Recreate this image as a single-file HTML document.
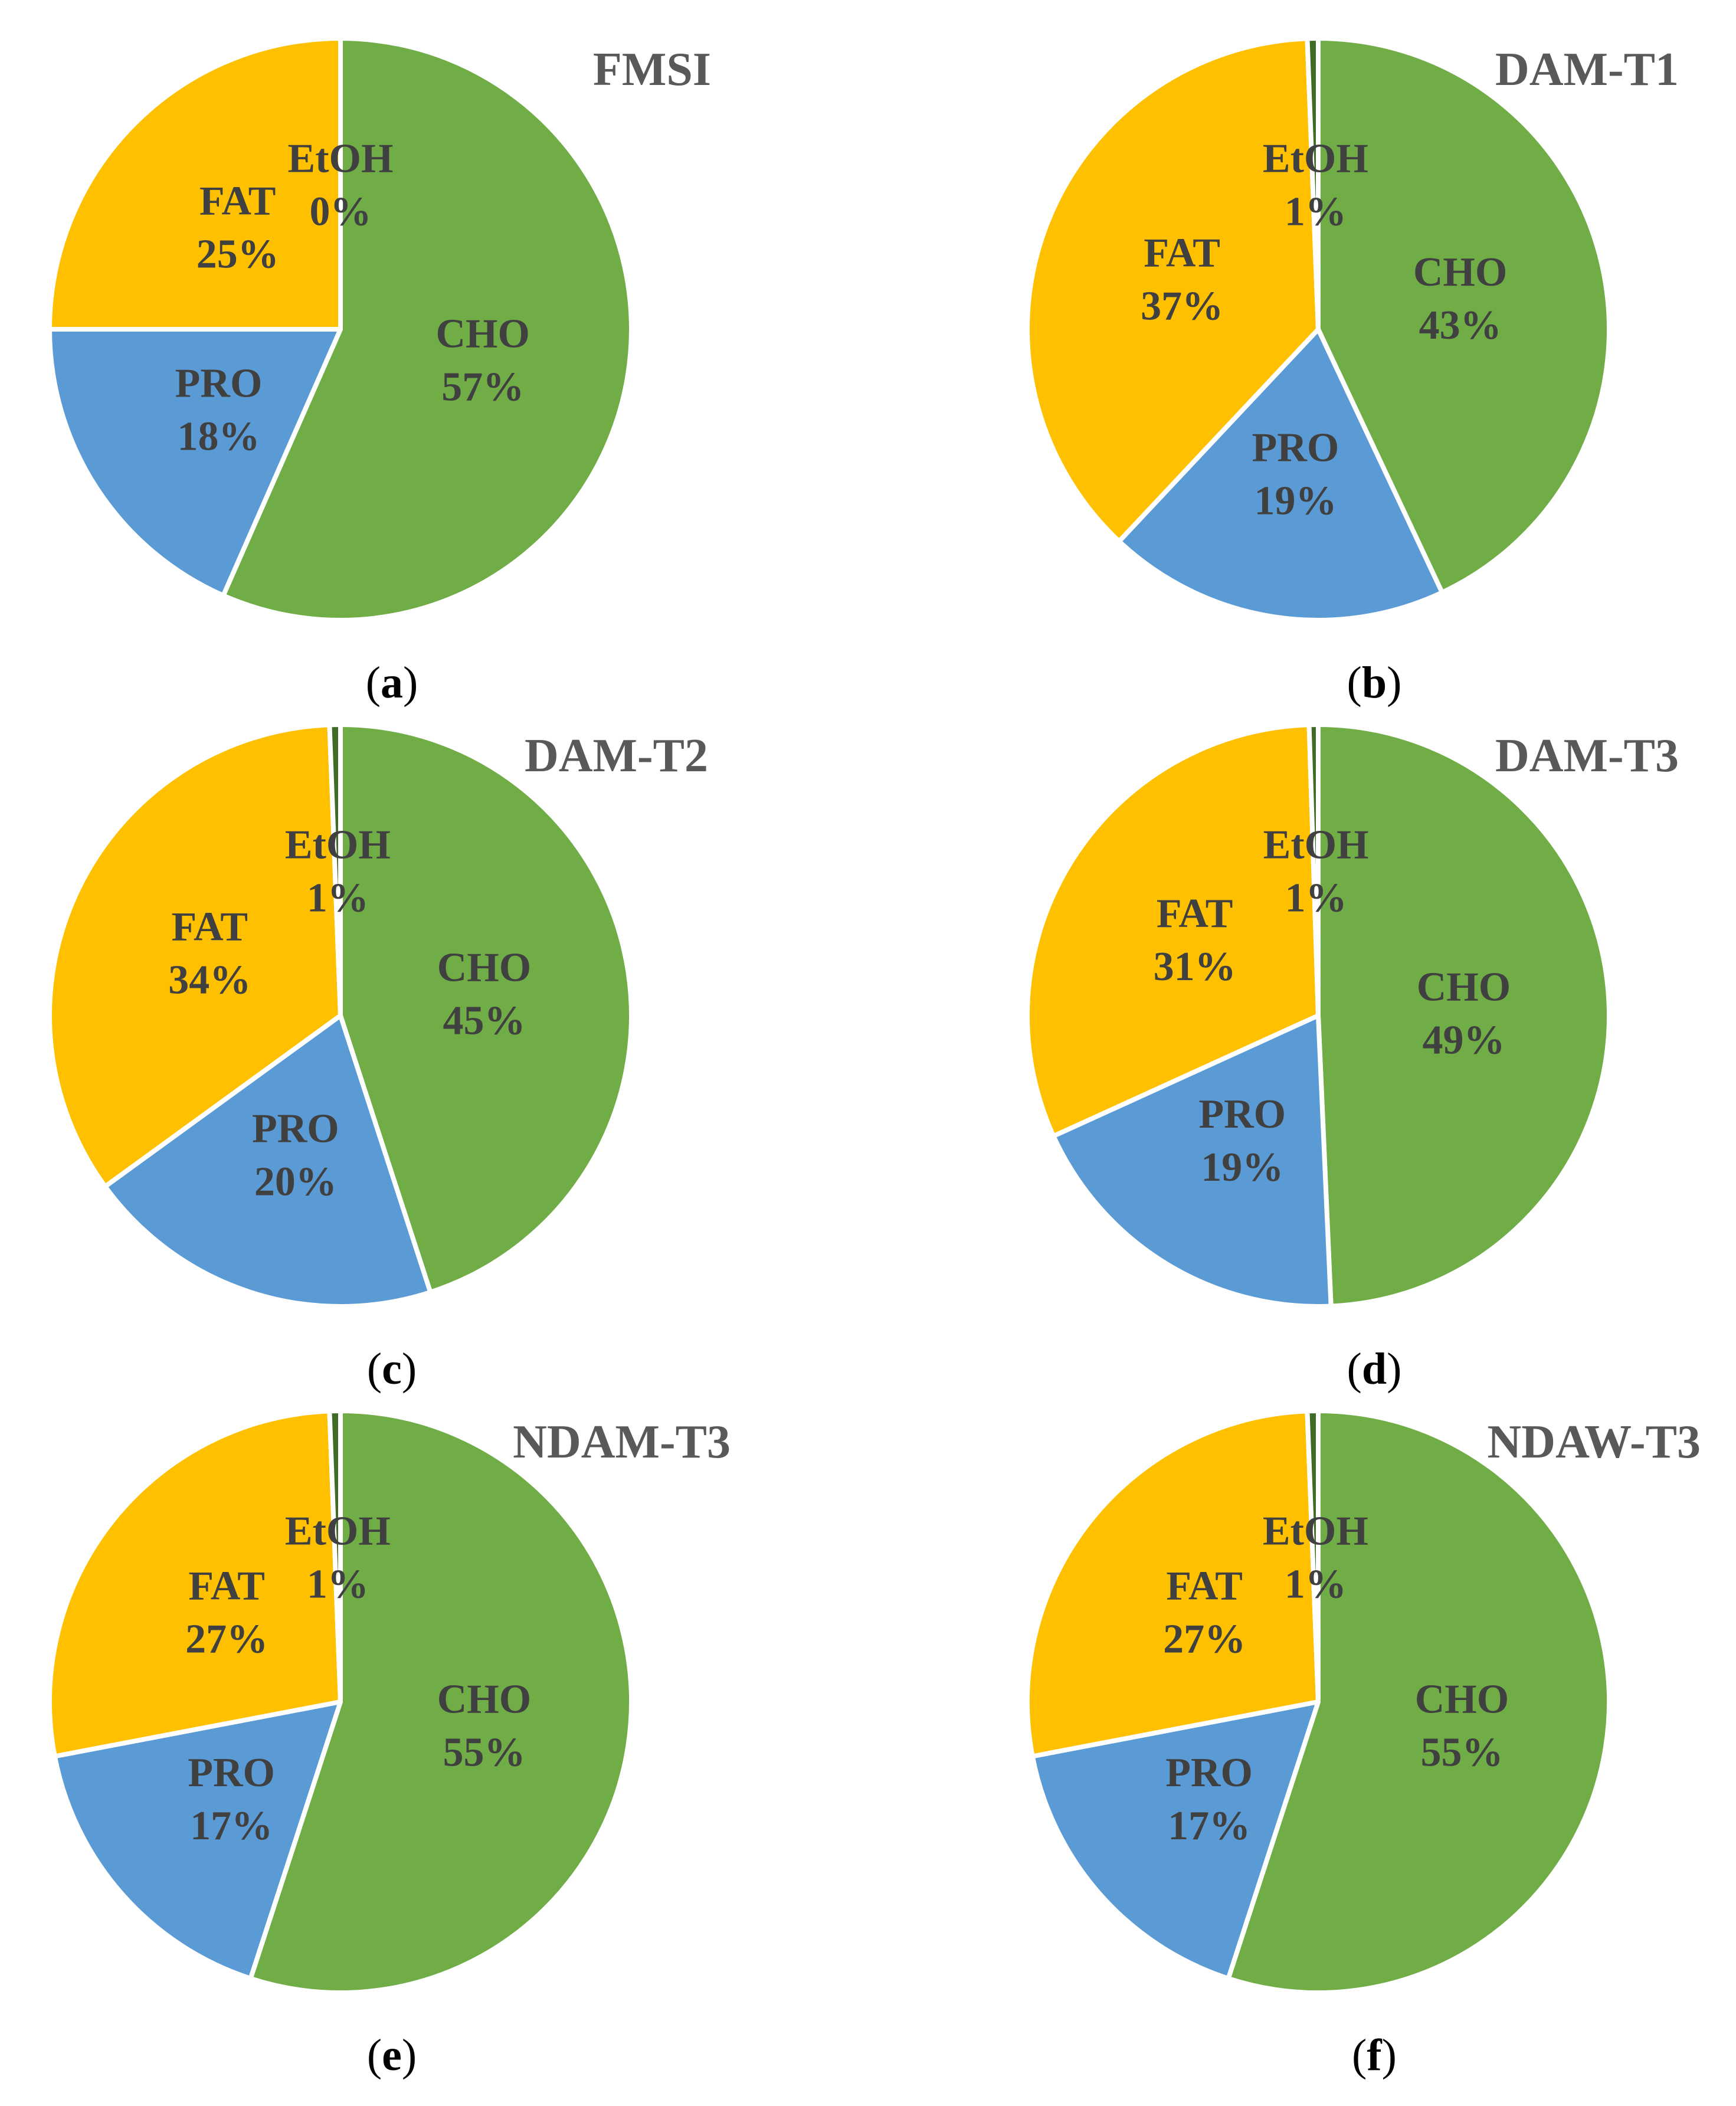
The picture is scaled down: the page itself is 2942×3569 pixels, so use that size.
<!DOCTYPE html>
<html><head><meta charset="utf-8"><style>
html,body{margin:0;padding:0;background:#fff;}
svg{display:block;}
</style></head><body>
<svg id="fig" width="2942" height="3569" viewBox="0 0 2942 3569" xmlns="http://www.w3.org/2000/svg"></svg>
<script>
const chartTitles = ["FMSI","DAM-T1","DAM-T2","DAM-T3","NDAM-T3","NDAW-T3"];
const panelLetters = ["a","b","c","d","e","f"];
const categories = ["CHO","PRO","FAT","EtOH"];
const choValues = [56.6, 43, 45, 49.3, 55, 55];
const proValues = [18.4, 19, 20, 18.9, 17, 17];
const fatValues = [25, 37.4, 34.4, 31.3, 27.4, 27.4];
const etohValues = [0, 0.6, 0.6, 0.5, 0.6, 0.6];
const choLabels = ["57%","43%","45%","49%","55%","55%"];
const proLabels = ["18%","19%","20%","19%","17%","17%"];
const fatLabels = ["25%","37%","34%","31%","27%","27%"];
const etohLabels = ["0%","1%","1%","1%","1%","1%"];

const colors = ["#70AD47","#5B9BD5","#FFC000","#3F6B27"];
const NS = "http://www.w3.org/2000/svg";
const svg = document.getElementById("fig");
const R = 493;
const colX = [577, 2234];
const rowY = [558, 1721, 2884];
const titleRight = [1205, 2845, 1200, 2845, 1238, 2882];
const letterX = [664, 2329];

function mk(tag, attrs, parent){
  const e = document.createElementNS(NS, tag);
  for (const k in attrs) e.setAttribute(k, attrs[k]);
  parent.appendChild(e);
  return e;
}
function pt(cx, cy, r, frac){
  const a = frac * 2 * Math.PI;
  return [cx + r * Math.sin(a), cy - r * Math.cos(a)];
}

for (let i = 0; i < 6; i++){
  const cx = colX[i % 2], cy = rowY[Math.floor(i / 2)];
  const g = mk("g", {}, svg);
  
  
  const vals = [choValues[i], proValues[i], fatValues[i], etohValues[i]];
  const labs = [choLabels[i], proLabels[i], fatLabels[i], etohLabels[i]];
  const total = vals.reduce((s, v) => s + v, 0);
  let acc = 0;
  const mids = [];
  for (let k = 0; k < 4; k++){
    const f0 = acc / total, f1 = (acc + vals[k]) / total;
    acc += vals[k];
    mids.push((f0 + f1) / 2);
    if (vals[k] <= 0) continue;
    const p0 = pt(cx, cy, R, f0), p1 = pt(cx, cy, R, f1);
    const large = (f1 - f0) > 0.5 ? 1 : 0;
    const path = mk("path", {
      d: `M${cx},${cy} L${p0[0]},${p0[1]} A${R},${R} 0 ${large} 1 ${p1[0]},${p1[1]} Z`,
      fill: colors[k], stroke: "#fff", "stroke-width": 8, "stroke-linejoin": "round"
    }, g);
    
    
  }
  for (let k = 0; k < 4; k++){
    const lp = pt(cx, cy, R * 0.5, mids[k]);
    const t = mk("text", {
      x: lp[0], "text-anchor": "middle",
      "font-family": "'Liberation Serif', serif", "font-weight": "bold",
      "font-size": 70, fill: "#404040"
    }, svg);
    
    
    const t1 = mk("tspan", {x: lp[0], y: lp[1] - 20}, t);
    t1.textContent = categories[k];
    const t2 = mk("tspan", {x: lp[0], y: lp[1] + 70}, t);
    t2.textContent = labs[k];
  }
  const title = mk("text", {
    x: titleRight[i], y: cy - 414, "text-anchor": "end",
    "font-family": "'Liberation Serif', serif", "font-weight": "bold",
    "font-size": 80, fill: "#595959"
  }, svg);
  
  
  title.textContent = chartTitles[i];

  const lt = mk("text", {
    x: letterX[i % 2], y: cy + 624, "text-anchor": "middle",
    "font-family": "'Liberation Serif', serif", "font-size": 76, fill: "#000"
  }, svg);
  
  
  const a = mk("tspan", {}, lt); a.textContent = "(";
  const b = mk("tspan", {"font-weight": "bold"}, lt); b.textContent = panelLetters[i];
  const c = mk("tspan", {}, lt); c.textContent = ")";
}
</script>
</body></html>
